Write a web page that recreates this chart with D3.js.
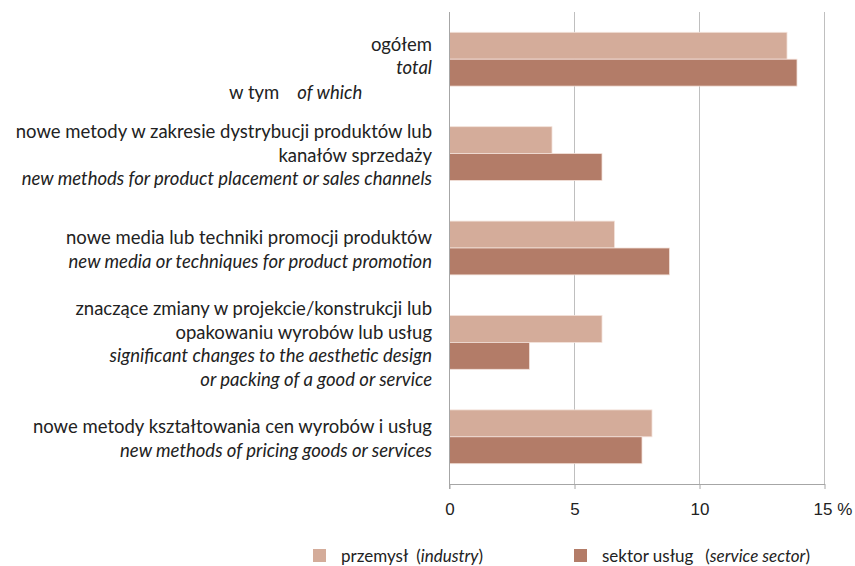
<!DOCTYPE html>
<html>
<head>
<meta charset="utf-8">
<script src="https://cdn.jsdelivr.net/npm/d3@7"></script>
<style>
  body { margin: 0; background: #fff; }
  svg { display: block; font-family: Lato, "Open Sans", sans-serif; }
  .grid line { stroke: #bfbfbf; }
  .xaxis path, .xaxis line { stroke: #a6a6a6; }
  .xaxis text { font-size: 17px; fill: #222; }
  .lbl { font-size: 18.5px; fill: #222; }
  .leg text { font-size: 17px; }
  .lbl .en { font-style: italic; }
</style>
</head>
<body>
<svg width="855" height="566"></svg>
<script>
// categories (PL / EN lines)
const categories = ['ogolem', 'dystrybucja', 'media', 'projekt', 'ceny'];
const labelsPl = [
  ['ogółem'],
  ['nowe metody w zakresie dystrybucji produktów lub', 'kanałów sprzedaży'],
  ['nowe media lub techniki promocji produktów'],
  ['znaczące zmiany w projekcie/konstrukcji lub', 'opakowaniu wyrobów lub usług'],
  ['nowe metody kształtowania cen wyrobów i usług']
];
const labelsEn = [
  ['total'],
  ['new methods for product placement or sales channels'],
  ['new media or techniques for product promotion'],
  ['significant changes to the aesthetic design', 'or packing of a good or service'],
  ['new methods of pricing goods or services']
];
const series = ['przemysl', 'uslugi'];
const seriesPl = ['przemysł', 'sektor usług'];
const seriesEn = ['industry', 'service sector'];
const industry = [13.5, 4.1, 6.6, 6.1, 8.1];
const services = [13.9, 6.1, 8.8, 3.2, 7.7];
const ticks = [0, 5, 10, 15];
const colors = ['#d4ac9a', '#b37c68'];

const svg = d3.select('svg');

const x = d3.scaleLinear().domain([0, 15]).range([449.5, 824.5]);
const y0 = d3.scaleBand().domain(categories).range([12, 484]).paddingInner(0.43).paddingOuter(0.215);
const y1 = d3.scaleBand().domain(series).range([0, y0.bandwidth()]);

// grid
svg.append('g').attr('class', 'grid')
  .selectAll('line').data(ticks.slice(1))
  .enter().append('line')
    .attr('x1', d => x(d)).attr('x2', d => x(d))
    .attr('y1', 12).attr('y2', 484);

const rows = categories.map((c, i) => ({c, vals: [industry[i], services[i]]}));

const g = svg.selectAll('.grp').data(rows)
  .enter().append('g')
    .attr('class', 'grp')
    .attr('transform', d => `translate(0,${y0(d.c)})`);

g.selectAll('rect')
  .data(d => d.vals.map((v, j) => ({s: series[j], v, j})))
  .enter().append('rect')
    .attr('x', x(0))
    .attr('y', d => y1(d.s))
    .attr('width', d => x(d.v) - x(0))
    .attr('height', y1.bandwidth())
    .attr('fill', d => colors[d.j])
    .attr('stroke', '#f3e2da')
    .attr('stroke-width', 0.8);

// axis
const xAxis = svg.append('g').attr('class', 'xaxis')
  .attr('transform', 'translate(0,484)')
  .call(d3.axisBottom(x).tickValues(ticks).tickSize(5).tickPadding(14).tickSizeOuter(0));
xAxis.selectAll('.tick text').each(function(d) {
  if (d === 15) {
    const t = d3.select(this);
    const w = this.getComputedTextLength();
    t.attr('text-anchor', 'start').attr('x', -w / 2 - 2);
    t.append('tspan').text(' %');
  }
});

// y axis line
svg.append('line')
  .attr('x1', x(0)).attr('x2', x(0))
  .attr('y1', 12).attr('y2', 489)
  .attr('stroke', '#a6a6a6');

// category labels
const lineH = 23.5;
rows.forEach((r, i) => {
  const lines = labelsPl[i].map(t => ({t, en: false})).concat(labelsEn[i].map(t => ({t, en: true})));
  const cy = y0(r.c) + y0.bandwidth() / 2 + (i === 0 ? -3 : 1.5);
  const top = cy - (lines.length - 1) * lineH / 2;
  const txt = svg.append('text').attr('class', 'lbl').attr('text-anchor', 'end');
  lines.forEach((l, k) => {
    txt.append('tspan')
      .attr('class', l.en ? 'en' : null)
      .attr('x', 432)
      .attr('y', top + k * lineH)
      .attr('dy', '0.35em')
      .text(l.t);
  });
});

// "w tym / of which"
const wt = svg.append('text').attr('class', 'lbl').attr('x', 229).attr('y', 93).attr('dy', '0.35em');
wt.append('tspan').text('w tym');
wt.append('tspan').attr('class', 'en').attr('dx', 18).text('of which');

// legend
const legX = [313, 574];
const leg = svg.selectAll('.leg').data(series)
  .enter().append('g')
    .attr('class', 'leg')
    .attr('transform', (d, i) => `translate(${legX[i]},549)`);
leg.append('rect').attr('width', 13).attr('height', 13).attr('fill', (d, i) => colors[i]);
const lt = leg.append('text').attr('class', 'lbl').attr('x', 28).attr('y', 7).attr('dy', '0.35em');
lt.append('tspan').text((d, i) => seriesPl[i]);
lt.append('tspan').attr('dx', (d, i) => i === 0 ? 8 : 12).text('(');
lt.append('tspan').attr('class', 'en').text((d, i) => seriesEn[i]);
lt.append('tspan').text(')');
</script>
</body>
</html>
